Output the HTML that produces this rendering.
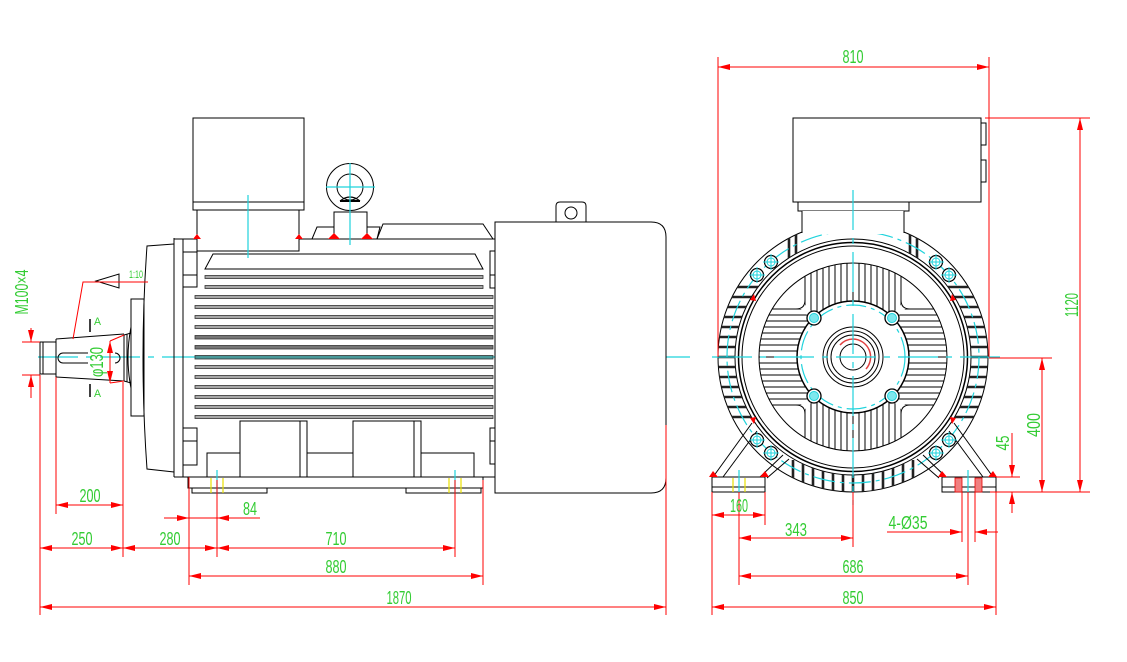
<!DOCTYPE html>
<html><head><meta charset="utf-8"><style>
html,body{margin:0;padding:0;background:#fff}
svg{display:block}
.t{font-family:"Liberation Sans",sans-serif;font-size:18px;fill:#33cc33}
.s{font-family:"Liberation Sans",sans-serif;font-size:11px;fill:#33cc33}
</style></head><body>
<svg width="1127" height="662" viewBox="0 0 1127 662" xmlns="http://www.w3.org/2000/svg">
<defs>
<marker id="a" viewBox="0 0 12 6" refX="12" refY="3" markerWidth="12" markerHeight="6" markerUnits="userSpaceOnUse" orient="auto-start-reverse"><path d="M0,0L12,3L0,6z" fill="#f00"/></marker>
<clipPath id="ann"><path clip-rule="evenodd" d="M759,357a94,94 0 1,0 188,0a94,94 0 1,0 -188,0ZM797,357a56,56 0 1,0 112,0a56,56 0 1,0 -112,0Z"/></clipPath>
<clipPath id="hreg"><polygon points="849,357 801,309 753,309 753,405 801,405"/><polygon points="857,357 905,309 953,309 953,405 905,405"/></clipPath>
<clipPath id="vreg"><polygon points="853,353 805,305 805,257 901,257 901,305"/><polygon points="853,361 805,409 805,457 901,457 901,409"/></clipPath>
<clipPath id="ring"><path clip-rule="evenodd" d="M718,357a135,135 0 1,0 270,0a135,135 0 1,0 -270,0ZM735,357a118,118 0 1,0 236,0a118,118 0 1,0 -236,0Z"/></clipPath>
<clipPath id="side"><rect x="700" y="283" width="58" height="140"/><rect x="948" y="283" width="60" height="140"/><rect x="788" y="460" width="130" height="40"/><rect x="785" y="215" width="16" height="45"/><rect x="905" y="215" width="16" height="45"/></clipPath>
</defs>

<!-- ================= SIDE VIEW ================= -->
<!-- center line -->
<line x1="38" y1="357" x2="690" y2="357" stroke="#1fd3dc" stroke-width="1.3" stroke-dasharray="40,8,6,8"/>

<g stroke="#000" stroke-width="1" fill="none">
  <!-- terminal box -->
  <rect x="193" y="118" width="111" height="92" fill="#fff"/>
  <line x1="193" y1="202" x2="304" y2="202"/>
  <!-- body top -->
  <line x1="174" y1="239" x2="495" y2="239"/>
  <line x1="174" y1="238" x2="174" y2="477"/>
  <line x1="183" y1="239" x2="183" y2="477"/>
  <line x1="174" y1="477" x2="495" y2="477"/>
  <rect x="197" y="210" width="102" height="41" fill="#fff"/>
  <!-- eye bolt -->
  <polygon points="312,239 317,227 334,227 334,239"/>
  <polygon points="367,239 367,227 380,227 377,239"/>
  <polygon points="377,239 383,224 483,224 493,239"/>
  <circle cx="350" cy="187" r="23.5" fill="#fff"/>
  <circle cx="350" cy="187" r="13"/>
  <rect x="334" y="212" width="33" height="27" fill="#fff"/>
  <path d="M340,201 Q350,193 360,201" stroke-width="1.2"/>
  <line x1="340" y1="201" x2="360" y2="201" stroke-width="2"/>
  <!-- upper fin trapezoid -->
  <polygon points="205,269 213,254 475,254 483,269"/>
  <!-- side small boxes -->
  <rect x="183" y="252" width="14" height="35"/><line x1="183" y1="275" x2="197" y2="275"/>
  <rect x="183" y="428" width="14" height="37"/><line x1="183" y1="441" x2="197" y2="441"/>
  <rect x="490" y="251" width="5" height="37"/><line x1="490" y1="275" x2="495" y2="275"/>
  <rect x="490" y="428" width="5" height="36"/><line x1="490" y1="441" x2="495" y2="441"/>
  <!-- flange / end shield -->
  <path d="M174,244 L147,246 Q139,357 147,469 L174,472"/>
  <rect x="131" y="299" width="13" height="117"/>
  <path d="M131,327 Q125,358 131,388"/>
  <path d="M124,335 L131,333 M124,381 L131,383"/>
  <line x1="124" y1="335" x2="124" y2="381"/>
  <line x1="127" y1="334" x2="127" y2="382"/>
  <!-- shaft -->
  <path d="M56,339 L124,334 M56,377 L124,381"/>
  <line x1="56" y1="339" x2="56" y2="377"/>
  <rect x="40" y="342" width="16" height="32"/>
  <line x1="43" y1="342" x2="43" y2="374"/>
  <path d="M88,353 L63,353 A5,5 0 0 0 63,363 L88,363"/>
  <path d="M115,353 A5,5 0 0 1 115,363"/>
  <!-- section marks -->
  <line x1="90" y1="319" x2="90" y2="332" stroke-width="1.5"/>
  <line x1="90" y1="384" x2="90" y2="397" stroke-width="1.5"/>
  <!-- taper triangle -->
  <polygon points="96,281 119,274 119,288"/>
  <!-- feet bosses -->
  <rect x="207" y="453" width="33" height="24"/>
  <rect x="240" y="421" width="60" height="56"/>
  <rect x="300" y="421" width="7" height="56"/>
  <rect x="307" y="453" width="46" height="24"/>
  <rect x="353" y="421" width="61" height="56"/>
  <rect x="414" y="421" width="7" height="56"/>
  <rect x="421" y="453" width="53" height="24"/>
  <rect x="188" y="477" width="295" height="11"/>
  <rect x="192" y="488" width="75" height="5"/>
  <rect x="406" y="488" width="75" height="5"/>
  <!-- fan cover -->
  <path d="M495,222 L651,222 Q666,222 666,237 L666,478 Q666,493 651,493 L495,493 Z" fill="#fff"/>
  <path d="M556,222 L556,206 Q556,202 560,202 L582,202 Q586,202 586,206 L586,222"/>
  <circle cx="571" cy="213" r="6"/>
</g>
<!-- fins side view -->
<g stroke="#333" stroke-width="0.8" fill="#a8a8a8">
  <rect x="205" y="275.5" width="278" height="3"/>
  <rect x="205" y="285.5" width="278" height="3"/>
  <rect x="195" y="295.5" width="298" height="3"/>
  <rect x="195" y="305.5" width="298" height="3"/>
  <rect x="195" y="315.5" width="298" height="3"/>
  <rect x="195" y="325.5" width="298" height="3"/>
  <rect x="195" y="335.5" width="298" height="3.5" fill="#777"/>
  <rect x="195" y="345.5" width="298" height="3.5" fill="#777"/>
  <rect x="195" y="355.5" width="298" height="3.5" fill="#4a9a9a"/>
  <rect x="195" y="365.5" width="298" height="3"/>
  <rect x="195" y="375.5" width="298" height="3"/>
  <rect x="195" y="385.5" width="298" height="3"/>
  <rect x="195" y="395.5" width="298" height="3"/>
  <rect x="195" y="405.5" width="298" height="3"/>
  <rect x="195" y="415.5" width="298" height="3"/>
</g>
<!-- cyan details side -->
<g stroke="#1fd3dc" stroke-width="1.2">
  <line x1="248" y1="195" x2="248" y2="258"/>
  <line x1="350" y1="163" x2="350" y2="245"/>
  <line x1="326" y1="187" x2="375" y2="187"/>
  <line x1="217" y1="470" x2="217" y2="493"/>
  <line x1="455" y1="470" x2="455" y2="493"/>
</g>
<g stroke="#e8e000" stroke-width="1.2">
  <line x1="211" y1="478" x2="211" y2="493"/><line x1="223" y1="478" x2="223" y2="493"/>
  <line x1="449" y1="478" x2="449" y2="493"/><line x1="461" y1="478" x2="461" y2="493"/>
</g>
<!-- red marks side -->
<g fill="#f00">
  <polygon points="193,239 197,234 201,239"/>
  <polygon points="295,239 299,234 303,239"/>
  <polygon points="328,239 334,233 340,239"/>
  <polygon points="361,239 367,233 373,239"/>
</g>

<!-- side view dimensions -->
<g stroke="#f00" stroke-width="1" fill="none">
  <line x1="40" y1="375" x2="40" y2="615"/>
  <line x1="56" y1="377" x2="56" y2="514"/>
  <line x1="123" y1="382" x2="123" y2="557"/>
  <line x1="189" y1="477" x2="189" y2="585"/>
  <line x1="217" y1="480" x2="217" y2="557"/>
  <line x1="455" y1="480" x2="455" y2="557"/>
  <line x1="483" y1="480" x2="483" y2="585"/>
  <line x1="666" y1="425" x2="666" y2="615"/>
  <line x1="56" y1="505" x2="123" y2="505" marker-start="url(#a)" marker-end="url(#a)"/>
  <line x1="164" y1="518" x2="189" y2="518" marker-end="url(#a)"/>
  <line x1="189" y1="518" x2="217" y2="518"/>
  <line x1="217" y1="518" x2="260" y2="518" marker-start="url(#a)"/>
  <line x1="40" y1="548" x2="123" y2="548" marker-start="url(#a)" marker-end="url(#a)"/>
  <line x1="123" y1="548" x2="217" y2="548" marker-start="url(#a)" marker-end="url(#a)"/>
  <line x1="217" y1="548" x2="455" y2="548" marker-start="url(#a)" marker-end="url(#a)"/>
  <line x1="189" y1="576" x2="483" y2="576" marker-start="url(#a)" marker-end="url(#a)"/>
  <line x1="40" y1="607" x2="666" y2="607" marker-start="url(#a)" marker-end="url(#a)"/>
  <!-- M100x4 -->
  <line x1="22" y1="342" x2="40" y2="342"/>
  <line x1="22" y1="375" x2="40" y2="375"/>
  <line x1="31" y1="328" x2="31" y2="342" marker-end="url(#a)"/>
  <line x1="31" y1="398" x2="31" y2="375" marker-end="url(#a)"/>
  <!-- phi130 -->
  <line x1="110" y1="341" x2="110" y2="383" marker-start="url(#a)" marker-end="url(#a)"/>
  <line x1="110" y1="341" x2="124" y2="335"/>
  <line x1="110" y1="383" x2="124" y2="381"/>
  <!-- taper leader -->
  <polyline points="73,339 83,282 148,282"/>
</g>
<!-- side view texts -->
<text class="t" x="90" y="502" text-anchor="middle" textLength="21" lengthAdjust="spacingAndGlyphs">200</text>
<text class="t" x="250" y="515" text-anchor="middle" textLength="14" lengthAdjust="spacingAndGlyphs">84</text>
<text class="t" x="82" y="545" text-anchor="middle" textLength="21" lengthAdjust="spacingAndGlyphs">250</text>
<text class="t" x="170" y="545" text-anchor="middle" textLength="21" lengthAdjust="spacingAndGlyphs">280</text>
<text class="t" x="336" y="545" text-anchor="middle" textLength="21" lengthAdjust="spacingAndGlyphs">710</text>
<text class="t" x="336" y="573" text-anchor="middle" textLength="21" lengthAdjust="spacingAndGlyphs">880</text>
<text class="t" x="399" y="604" text-anchor="middle" textLength="25" lengthAdjust="spacingAndGlyphs">1870</text>
<text class="s" x="129" y="278" textLength="14" lengthAdjust="spacingAndGlyphs">1:10</text>
<text class="s" x="94" y="325" textLength="7" lengthAdjust="spacingAndGlyphs">A</text>
<text class="s" x="94" y="397" textLength="7" lengthAdjust="spacingAndGlyphs">A</text>
<text class="t" transform="translate(28,292) rotate(-90)" x="0" y="0" text-anchor="middle" textLength="45" lengthAdjust="spacingAndGlyphs">M100×4</text>
<text class="t" transform="translate(103,362) rotate(-90)" x="0" y="0" text-anchor="middle" textLength="30" lengthAdjust="spacingAndGlyphs">φ130</text>

<!-- ================= FRONT VIEW ================= -->
<!-- outer ring -->
<g stroke="#000" fill="none">
  <circle cx="853" cy="357" r="135" stroke-width="1"/>
  <circle cx="853" cy="357" r="118" stroke-width="1"/>
  <circle cx="853" cy="357" r="114.5" stroke-width="1.5"/>
  <circle cx="853" cy="357" r="111" stroke-width="1"/>
</g>
<!-- ring fins -->
<g clip-path="url(#ring)"><g clip-path="url(#side)" stroke="#222" stroke-width="2.6">
  <line x1="700" y1="287" x2="760" y2="287"/><line x1="946" y1="287" x2="1008" y2="287"/>
  <line x1="700" y1="297" x2="760" y2="297"/><line x1="946" y1="297" x2="1008" y2="297"/>
  <line x1="700" y1="307" x2="760" y2="307"/><line x1="946" y1="307" x2="1008" y2="307"/>
  <line x1="700" y1="317" x2="760" y2="317"/><line x1="946" y1="317" x2="1008" y2="317"/>
  <line x1="700" y1="327" x2="760" y2="327"/><line x1="946" y1="327" x2="1008" y2="327"/>
  <line x1="700" y1="337" x2="760" y2="337"/><line x1="946" y1="337" x2="1008" y2="337"/>
  <line x1="700" y1="347" x2="760" y2="347"/><line x1="946" y1="347" x2="1008" y2="347"/>
  <line x1="700" y1="357" x2="760" y2="357"/><line x1="946" y1="357" x2="1008" y2="357"/>
  <line x1="700" y1="367" x2="760" y2="367"/><line x1="946" y1="367" x2="1008" y2="367"/>
  <line x1="700" y1="377" x2="760" y2="377"/><line x1="946" y1="377" x2="1008" y2="377"/>
  <line x1="700" y1="387" x2="760" y2="387"/><line x1="946" y1="387" x2="1008" y2="387"/>
  <line x1="700" y1="397" x2="760" y2="397"/><line x1="946" y1="397" x2="1008" y2="397"/>
  <line x1="700" y1="407" x2="760" y2="407"/><line x1="946" y1="407" x2="1008" y2="407"/>
  <line x1="700" y1="417" x2="760" y2="417"/><line x1="946" y1="417" x2="1008" y2="417"/>
  <line x1="793" y1="455" x2="793" y2="500"/><line x1="803" y1="455" x2="803" y2="500"/>
  <line x1="813" y1="455" x2="813" y2="500"/><line x1="823" y1="455" x2="823" y2="500"/>
  <line x1="833" y1="455" x2="833" y2="500"/><line x1="843" y1="455" x2="843" y2="500"/>
  <line x1="853" y1="455" x2="853" y2="500"/><line x1="863" y1="455" x2="863" y2="500"/>
  <line x1="873" y1="455" x2="873" y2="500"/><line x1="883" y1="455" x2="883" y2="500"/>
  <line x1="893" y1="455" x2="893" y2="500"/><line x1="903" y1="455" x2="903" y2="500"/>
  <line x1="913" y1="455" x2="913" y2="500"/>
  <line x1="789" y1="215" x2="789" y2="260"/><line x1="796" y1="215" x2="796" y2="260"/>
  <line x1="910" y1="215" x2="910" y2="260"/><line x1="917" y1="215" x2="917" y2="260"/>
</g></g>
<circle cx="853" cy="357" r="126" stroke="#1fd3dc" stroke-width="1.2" fill="none" stroke-dasharray="22,5,4,5"/>

<!-- inner fin block -->
<g clip-path="url(#ann)"><g clip-path="url(#hreg)" stroke="#000" stroke-width="1">
  <line x1="755" y1="309" x2="951" y2="309"/><line x1="755" y1="315" x2="951" y2="315"/>
  <line x1="755" y1="321" x2="951" y2="321"/><line x1="755" y1="327" x2="951" y2="327"/>
  <line x1="755" y1="333" x2="951" y2="333"/><line x1="755" y1="339" x2="951" y2="339"/>
  <line x1="755" y1="345" x2="951" y2="345"/><line x1="755" y1="351" x2="951" y2="351"/>
  <line x1="755" y1="357" x2="951" y2="357"/><line x1="755" y1="363" x2="951" y2="363"/>
  <line x1="755" y1="369" x2="951" y2="369"/><line x1="755" y1="375" x2="951" y2="375"/>
  <line x1="755" y1="381" x2="951" y2="381"/><line x1="755" y1="387" x2="951" y2="387"/>
  <line x1="755" y1="393" x2="951" y2="393"/><line x1="755" y1="399" x2="951" y2="399"/>
  <line x1="755" y1="405" x2="951" y2="405"/>
</g></g>
<g clip-path="url(#ann)"><g clip-path="url(#vreg)" stroke="#000" stroke-width="1">
  <line x1="805" y1="259" x2="805" y2="455"/><line x1="811" y1="259" x2="811" y2="455"/>
  <line x1="817" y1="259" x2="817" y2="455"/><line x1="823" y1="259" x2="823" y2="455"/>
  <line x1="829" y1="259" x2="829" y2="455"/><line x1="835" y1="259" x2="835" y2="455"/>
  <line x1="841" y1="259" x2="841" y2="455"/><line x1="847" y1="259" x2="847" y2="455"/>
  <line x1="853" y1="259" x2="853" y2="455"/><line x1="859" y1="259" x2="859" y2="455"/>
  <line x1="865" y1="259" x2="865" y2="455"/><line x1="871" y1="259" x2="871" y2="455"/>
  <line x1="877" y1="259" x2="877" y2="455"/><line x1="883" y1="259" x2="883" y2="455"/>
  <line x1="889" y1="259" x2="889" y2="455"/><line x1="895" y1="259" x2="895" y2="455"/>
  <line x1="901" y1="259" x2="901" y2="455"/>
</g></g>
<g stroke="#000" stroke-width="1" fill="none">
  <circle cx="853" cy="357" r="94"/>
  <path d="M805,276 L805,300 Q805,309 796,309 L772,309"/>
  <path d="M901,276 L901,300 Q901,309 910,309 L934,309"/>
  <path d="M805,438 L805,414 Q805,405 796,405 L772,405"/>
  <path d="M901,438 L901,414 Q901,405 910,405 L934,405"/>
  <circle cx="853" cy="357" r="56" fill="#fff" stroke-width="1.5"/>
</g>
<circle cx="853" cy="357" r="52" stroke="#1fd3dc" stroke-width="1.2" fill="none" stroke-dasharray="20,5,4,5"/>
<g stroke="#000" stroke-width="1" fill="none">
  <circle cx="853" cy="357" r="30"/>
  <circle cx="853" cy="357" r="26"/>
  <circle cx="853" cy="357" r="22"/>
  <circle cx="853" cy="357" r="13"/>
</g>
<path d="M853,339 A18,18 0 0 1 866,369" stroke="#e04040" stroke-width="1.5" fill="none"/>
<path d="M853,339 A18,18 0 0 0 840,345" stroke="#e04040" stroke-width="1.5" fill="none"/>
<!-- boss bolt holes -->
<g stroke="#000" stroke-width="1.3" fill="#fff">
  <circle cx="814" cy="318" r="7"/><circle cx="892" cy="318" r="7"/>
  <circle cx="814" cy="396" r="7"/><circle cx="892" cy="396" r="7"/>
</g>
<g fill="#7ee8ee" stroke="#1fd3dc" stroke-width="1">
  <circle cx="814" cy="318" r="4.5"/><circle cx="892" cy="318" r="4.5"/>
  <circle cx="814" cy="396" r="4.5"/><circle cx="892" cy="396" r="4.5"/>
</g>

<!-- legs -->
<g stroke="#000" stroke-width="1" fill="none">
  <line x1="713" y1="477" x2="752" y2="423"/>
  <line x1="723" y1="477" x2="757" y2="431"/>
  <line x1="760" y1="477" x2="783" y2="455"/>
  <line x1="767" y1="478" x2="789" y2="459"/>
  <line x1="993" y1="477" x2="954" y2="423"/>
  <line x1="983" y1="477" x2="949" y2="431"/>
  <line x1="946" y1="477" x2="923" y2="455"/>
  <line x1="939" y1="478" x2="917" y2="459"/>
  <!-- feet -->
  <rect x="712" y="477" width="53" height="15" fill="#fff"/>
  <line x1="712" y1="487" x2="765" y2="487"/>
  <rect x="942" y="477" width="54" height="15" fill="#fff"/>
  <line x1="942" y1="487" x2="996" y2="487"/>
</g>
<!-- ring bolts -->
<g>
  <g stroke="#000" stroke-width="1.2" fill="#fff">
    <circle cx="771" cy="262" r="6.5"/><circle cx="757" cy="275" r="6.5"/>
    <circle cx="936" cy="262" r="6.5"/><circle cx="949" cy="275" r="6.5"/>
    <circle cx="757" cy="440" r="6.5"/><circle cx="771" cy="453" r="6.5"/>
    <circle cx="949" cy="440" r="6.5"/><circle cx="936" cy="453" r="6.5"/>
  </g>
  <g stroke="#1fd3dc" stroke-width="1" fill="none">
    <circle cx="771" cy="262" r="4"/><circle cx="757" cy="275" r="4"/>
    <circle cx="936" cy="262" r="4"/><circle cx="949" cy="275" r="4"/>
    <circle cx="757" cy="440" r="4"/><circle cx="771" cy="453" r="4"/>
    <circle cx="949" cy="440" r="4"/><circle cx="936" cy="453" r="4"/>
    <path d="M763,262h16M771,254v16M749,275h16M757,267v16M928,262h16M936,254v16M941,275h16M949,267v16M749,440h16M757,432v16M763,453h16M771,445v16M941,440h16M949,432v16M928,453h16M936,445v16"/>
  </g>
</g>
<!-- hatch on right foot holes -->
<g fill="#f08080" stroke="#e00" stroke-width="0.8">
  <rect x="955" y="478" width="7" height="14"/>
  <rect x="975" y="478" width="7" height="14"/>
</g>
<g stroke="#e8e000" stroke-width="1.2">
  <line x1="733" y1="478" x2="733" y2="492"/><line x1="745" y1="478" x2="745" y2="492"/>
</g>
<g fill="#f00">
  <polygon points="709,477 713,471 718,477"/>
  <polygon points="760,477 765,471 769,477"/>
  <polygon points="938,477 942,471 947,477"/>
  <polygon points="988,477 993,471 997,477"/>
  <polygon points="750,300 754,294 756,301"/>
  <polygon points="750,418 754,424 756,417"/>
  <polygon points="956,300 952,294 950,301"/>
  <polygon points="956,418 952,424 950,417"/>
</g>

<!-- front terminal box -->
<g stroke="#000" stroke-width="1" fill="#fff">
  <rect x="793" y="118" width="188" height="84"/>
  <rect x="981" y="123" width="5" height="22"/>
  <rect x="981" y="160" width="5" height="22"/>
  <rect x="798" y="202" width="111" height="9"/>
  <path d="M802,211 L802,234 L904,234 L904,211" stroke="none"/>
  <path d="M802,211 L802,233 M904,211 L904,233" fill="none"/>
</g>

<!-- front center lines -->
<line x1="853" y1="190" x2="853" y2="505" stroke="#1fd3dc" stroke-width="1.2" stroke-dasharray="40,8,6,8"/>
<line x1="712" y1="357" x2="1000" y2="357" stroke="#1fd3dc" stroke-width="1.2" stroke-dasharray="40,8,6,8"/>
<line x1="739" y1="470" x2="739" y2="493" stroke="#1fd3dc" stroke-width="1.2"/>
<line x1="968" y1="470" x2="968" y2="493" stroke="#1fd3dc" stroke-width="1.2"/>

<!-- front dimensions -->
<g stroke="#f00" stroke-width="1" fill="none">
  <line x1="718" y1="57" x2="718" y2="357"/>
  <line x1="989" y1="57" x2="989" y2="357"/>
  <line x1="718" y1="67" x2="989" y2="67" marker-start="url(#a)" marker-end="url(#a)"/>
  <line x1="985" y1="118" x2="1090" y2="118"/>
  <line x1="990" y1="492" x2="1090" y2="492"/>
  <line x1="1080" y1="118" x2="1080" y2="492" marker-start="url(#a)" marker-end="url(#a)"/>
  <line x1="989" y1="358" x2="1052" y2="358"/>
  <line x1="1042" y1="358" x2="1042" y2="492" marker-start="url(#a)" marker-end="url(#a)"/>
  <line x1="996" y1="477" x2="1020" y2="477"/>
  <line x1="1012" y1="433" x2="1012" y2="477" marker-end="url(#a)"/>
  <line x1="1012" y1="513" x2="1012" y2="492" marker-end="url(#a)"/>
  <line x1="712" y1="492" x2="712" y2="615"/>
  <line x1="765" y1="492" x2="765" y2="525"/>
  <line x1="739" y1="492" x2="739" y2="585"/>
  <line x1="853" y1="492" x2="853" y2="547"/>
  <line x1="962" y1="492" x2="962" y2="542"/>
  <line x1="975" y1="492" x2="975" y2="542"/>
  <line x1="968" y1="492" x2="968" y2="585"/>
  <line x1="996" y1="492" x2="996" y2="615"/>
  <line x1="712" y1="515" x2="765" y2="515" marker-start="url(#a)" marker-end="url(#a)"/>
  <line x1="739" y1="538" x2="853" y2="538" marker-start="url(#a)" marker-end="url(#a)"/>
  <line x1="887" y1="532" x2="962" y2="532" marker-end="url(#a)"/>
  <line x1="975" y1="532" x2="998" y2="532" marker-start="url(#a)"/>
  <line x1="739" y1="576" x2="968" y2="576" marker-start="url(#a)" marker-end="url(#a)"/>
  <line x1="712" y1="607" x2="996" y2="607" marker-start="url(#a)" marker-end="url(#a)"/>
</g>
<!-- front texts -->
<text class="t" x="853" y="63" text-anchor="middle" textLength="21" lengthAdjust="spacingAndGlyphs">810</text>
<text class="t" x="739" y="512" text-anchor="middle" textLength="18" lengthAdjust="spacingAndGlyphs">160</text>
<text class="t" x="796" y="536" text-anchor="middle" textLength="22" lengthAdjust="spacingAndGlyphs">343</text>
<text class="t" x="908" y="529" text-anchor="middle" textLength="39" lengthAdjust="spacingAndGlyphs">4-Ø35</text>
<text class="t" x="853" y="573" text-anchor="middle" textLength="21" lengthAdjust="spacingAndGlyphs">686</text>
<text class="t" x="853" y="604" text-anchor="middle" textLength="21" lengthAdjust="spacingAndGlyphs">850</text>
<text class="t" transform="translate(1078,305) rotate(-90)" x="0" y="0" text-anchor="middle" textLength="24" lengthAdjust="spacingAndGlyphs">1120</text>
<text class="t" transform="translate(1040,425) rotate(-90)" x="0" y="0" text-anchor="middle" textLength="24" lengthAdjust="spacingAndGlyphs">400</text>
<text class="t" transform="translate(1009,443) rotate(-90)" x="0" y="0" text-anchor="middle" textLength="15" lengthAdjust="spacingAndGlyphs">45</text>
</svg>
</body></html>
